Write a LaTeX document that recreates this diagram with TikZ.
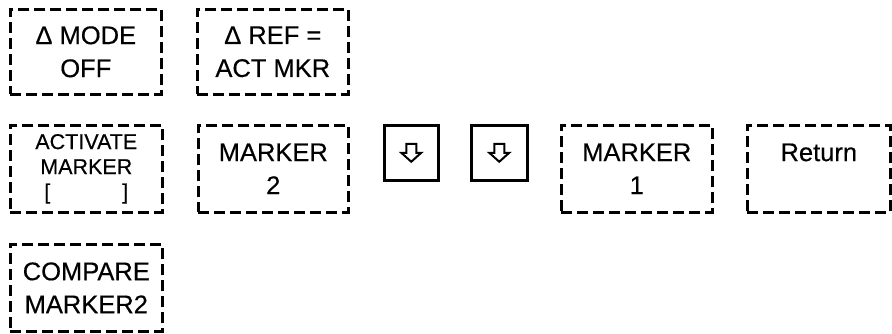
\documentclass[tikz,border=0pt]{standalone}
\usepackage{fontspec}
\setmainfont[FakeBold=0.4]{Liberation Sans}
\begin{document}
\begin{tikzpicture}[x=1pt,y=-1pt,
  softkey/.style={draw, line width=2.6pt, dash pattern=on 11pt off 5pt, inner sep=0pt,
    align=center, font=\fontsize{25.5}{33}\selectfont, anchor=north west},
  smallkey/.style={softkey, font=\fontsize{21.5}{25}\selectfont},
  hardkey/.style={draw, line width=2.5pt, inner sep=0pt, anchor=north west,
    minimum width=54pt, minimum height=55pt},
  arrowicon/.style={line width=2pt, line join=miter}
]
\useasboundingbox (0,0) rectangle (892,333);
% row 1
\node[softkey, minimum width=151pt, minimum height=85pt] (dmode) at (9,8) {Δ MODE\\OFF};
\node[softkey, minimum width=151pt, minimum height=85pt] (dref) at (196,8) {Δ REF =\\ACT MKR};
% row 2
\node[smallkey, minimum width=152pt, minimum height=87pt] (act) at (9,124) {ACTIVATE\\MARKER\\{[}\hspace{72pt}{]}};
\node[softkey, minimum width=150pt, minimum height=87pt] (mk2) at (197,124) {MARKER\\2};
\node[hardkey] (dn1) at (383,124) {};
\node[hardkey, minimum width=56pt] (dn2) at (470,124) {};
\node[softkey, minimum width=151pt, minimum height=87pt] (mk1) at (560,124) {MARKER\\1};
\node[softkey, minimum width=143pt, minimum height=87pt] (ret) at (746,124) {Return\\\phantom{1}};
% row 3
\node[softkey, minimum width=152pt, minimum height=87pt] (cmp) at (9,243) {COMPARE\\MARKER2};
% arrow icons
\foreach \k in {dn1,dn2}{
  \draw[arrowicon, shift={(\k.center)}] (-5,-9) -- (5,-9) -- (5,0) -- (10,0) -- (0,9) -- (-10,0) -- (-5,0) -- cycle;
}
\end{tikzpicture}
\end{document}
